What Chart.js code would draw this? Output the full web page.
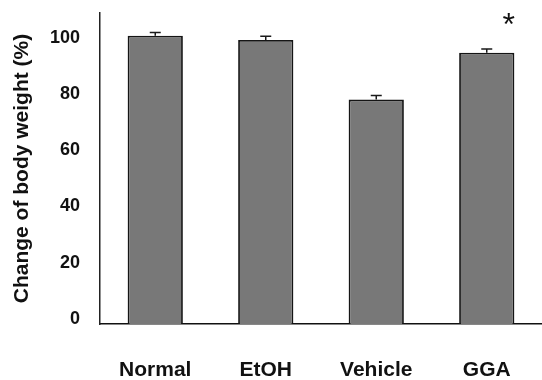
<!DOCTYPE html>
<html lang="en">
<head>
    <meta charset="UTF-8">
    <title>Change of body weight</title>
    <script src="https://cdn.jsdelivr.net/npm/chart.js@4.4.1/dist/chart.umd.min.js"></script>
    <style>
      html, body { margin: 0; padding: 0; background: #fff; }
      #wrap { position: relative; width: 542px; height: 380px; }
    </style>
    <script>
      const groups = ['Normal', 'EtOH', 'Vehicle', 'GGA']
      const weightChange = [100.7, 99.2, 78.0, 94.7]
      const weightError = [1.2, 1.3, 1.5, 1.3]
      const significant = [false, false, false, true]
      const yTicks = [0, 20, 40, 60, 80, 100]

      const fontFamily = '"Liberation Sans", Arial, Helvetica, sans-serif'

      // error bars (upper only) and the significance star, placed through the scales
      const errorBars = {
        id: 'errorBars',
        afterDatasetsDraw(chart) {
          const ctx = chart.ctx
          const xs = chart.scales.x
          const ys = chart.scales.y
          const meta = chart.getDatasetMeta(0)
          ctx.save()
          ctx.strokeStyle = '#1a1a1a'
          ctx.lineWidth = 1.5
          weightChange.forEach((v, i) => {
            const x = xs.getPixelForValue(i)
            const yTop = ys.getPixelForValue(v + weightError[i])
            const yBar = ys.getPixelForValue(v)
            ctx.beginPath()
            ctx.moveTo(x, yBar)
            ctx.lineTo(x, yTop)
            ctx.moveTo(x - 5.5, yTop)
            ctx.lineTo(x + 5.5, yTop)
            ctx.stroke()
            if (significant[i]) {
              const w = meta.data[i].width
              ctx.fillStyle = '#111'
              ctx.font = '32px ' + fontFamily
              ctx.textAlign = 'center'
              ctx.textBaseline = 'middle'
              ctx.fillText('*', x + w * 0.4, ys.getPixelForValue(104))
            }
          })
          ctx.restore()
        }
      }

      window.onload = function() {
        const ctx = document.getElementById('chart').getContext('2d')

        new Chart(ctx, {
          type: 'bar',
          data: {
            labels: groups,
            datasets: [{
              data: weightChange,
              base: -1.8,
              backgroundColor: '#787878',
              borderColor: '#151515',
              borderWidth: 1.8,
              barPercentage: 0.5,
              categoryPercentage: 1
            }]
          },
          options: {
            responsive: false,
            animation: false,
            layout: { padding: { top: 13, left: 0, right: 0, bottom: 0 } },
            plugins: { legend: { display: false }, tooltip: { enabled: false } },
            scales: {
              x: {
                grid: { display: false, drawTicks: false },
                border: { display: true, color: '#111', width: 1.5 },
                ticks: {
                  padding: 34,
                  color: '#111',
                  font: { family: fontFamily, size: 21, weight: 'bold' }
                },
                afterFit(scale) {
                  scale.height = 56
                  scale.paddingLeft = 0
                  scale.paddingRight = 0
                }
              },
              y: {
                min: -1.8,
                max: 108.8,
                grid: { display: false, drawTicks: false },
                border: { display: true, color: '#222', width: 1.5 },
                afterBuildTicks(scale) {
                  scale.ticks = yTicks.map(v => ({ value: v }))
                },
                ticks: {
                  padding: 20,
                  color: '#111',
                  font: { family: fontFamily, size: 18, weight: 'bold' }
                },
                title: {
                  display: true,
                  text: 'Change of body weight (%)',
                  color: '#111',
                  padding: { top: 10, bottom: 0 },
                  font: { family: fontFamily, size: 21, weight: 'bold' }
                },
                afterFit(scale) {
                  scale.width = 100
                  scale.paddingTop = 0
                  scale.paddingBottom = 0
                }
              }
            }
          },
          plugins: [errorBars]
        })
      }
    </script>
</head>
<body>
<div id="wrap">
    <canvas id="chart" width="542" height="380"></canvas>
</div>
</body>
</html>
